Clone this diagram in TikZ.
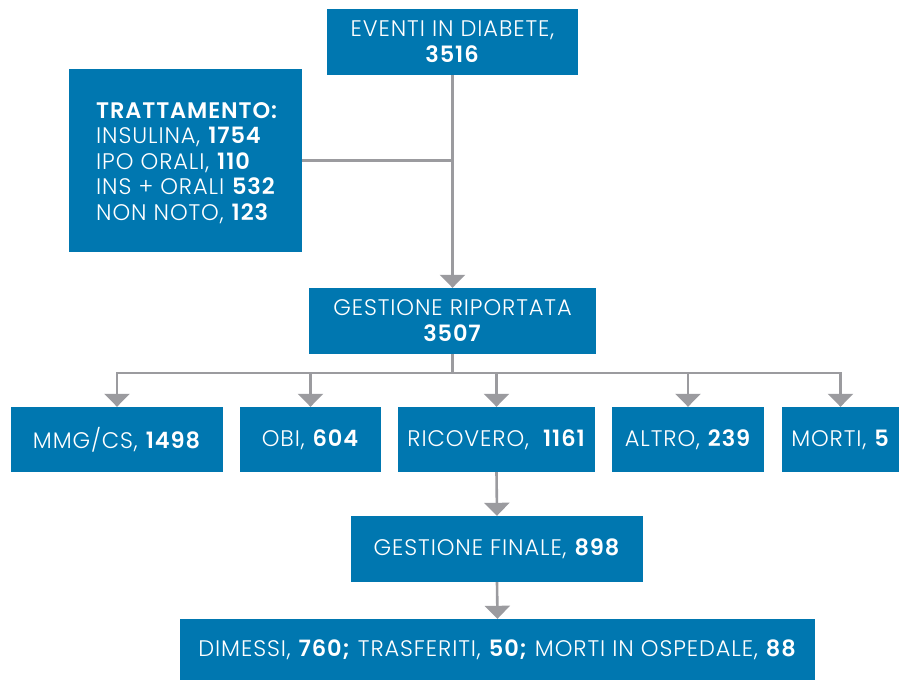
\documentclass[tikz,border=0pt]{standalone}
\usepackage{fontspec}
\setmainfont{Poppins Light}[BoldFont={Poppins SemiBold}, LetterSpace=4]
\usetikzlibrary{arrows.meta}
\definecolor{boxblue}{HTML}{0077B0}
\definecolor{linegray}{HTML}{9B9B9F}
\begin{document}
\begin{tikzpicture}[x=1pt,y=-1pt,
  box/.style={fill=boxblue, text=white, inner sep=0pt, align=center,
    font=\fontsize{22.5}{26}\selectfont},
  conn/.style={draw=linegray, line width=2.6pt},
  arr/.style={conn, -{Triangle[width=25pt,length=13pt]}}]
\useasboundingbox (0,0) rectangle (909,680);
% boxes
\node[box, minimum width=251pt, minimum height=66pt] (ev) at (452.5,42) {EVENTI IN DIABETE,\\\textbf{3516}};
\node[box, minimum width=233pt, minimum height=183pt] (tr) at (185.5,160.5) {};
\node[text=white, inner sep=0pt, align=left, anchor=west, font=\fontsize{22.5}{25.4}\selectfont] (trt) at (96,163)
  {\textbf{TRATTAMENTO:}\\INSULINA, \textbf{1754}\\IPO ORALI, \textbf{110}\\INS + ORALI \textbf{532}\\NON NOTO, \textbf{123}};
\node[box, minimum width=287pt, minimum height=66pt] (gr) at (452.5,321) {GESTIONE RIPORTATA\\\textbf{3507}};
\node[box, minimum width=212pt, minimum height=65pt] (mmg) at (117,439.5) {MMG/CS, \textbf{1498}};
\node[box, minimum width=141pt, minimum height=65pt] (obi) at (310.5,439.5) {OBI, \textbf{604}};
\node[box, minimum width=197pt, minimum height=65pt] (ric) at (496.5,439.5) {RICOVERO,\ \ \textbf{1161}};
\node[box, minimum width=152pt, minimum height=65pt] (alt) at (688,439.5) {ALTRO, \textbf{239}};
\node[box, minimum width=117pt, minimum height=65pt] (mor) at (840.5,439.5) {MORTI, \textbf{5}};
\node[box, minimum width=292pt, minimum height=66pt] (gf) at (497,549) {GESTIONE FINALE, \textbf{898}};
\node[box, minimum width=635pt, minimum height=61pt] (dim) at (497.5,649.5) {DIMESSI, \textbf{760;} TRASFERITI, \textbf{50;} MORTI IN OSPEDALE, \textbf{88}};
% connectors
\coordinate (j1) at (452.5,160.5);
\coordinate (bj) at (452.5,373);
\draw[arr] (ev.south) -- (gr.north);
\draw[conn] (tr.east) -- (j1);
\draw[conn] (gr.south) -- (bj);
\draw[arr] (bj) -| (mmg.north);
\draw[arr] (bj) -| (obi.north);
\draw[arr] (bj) -| (ric.north);
\draw[arr] (bj) -| (alt.north);
\draw[arr] (bj) -| (mor.north);
\draw[arr] (ric.south) -- (gf.north);
\draw[arr] (gf.south) -- (dim.north);
\end{tikzpicture}
\end{document}
